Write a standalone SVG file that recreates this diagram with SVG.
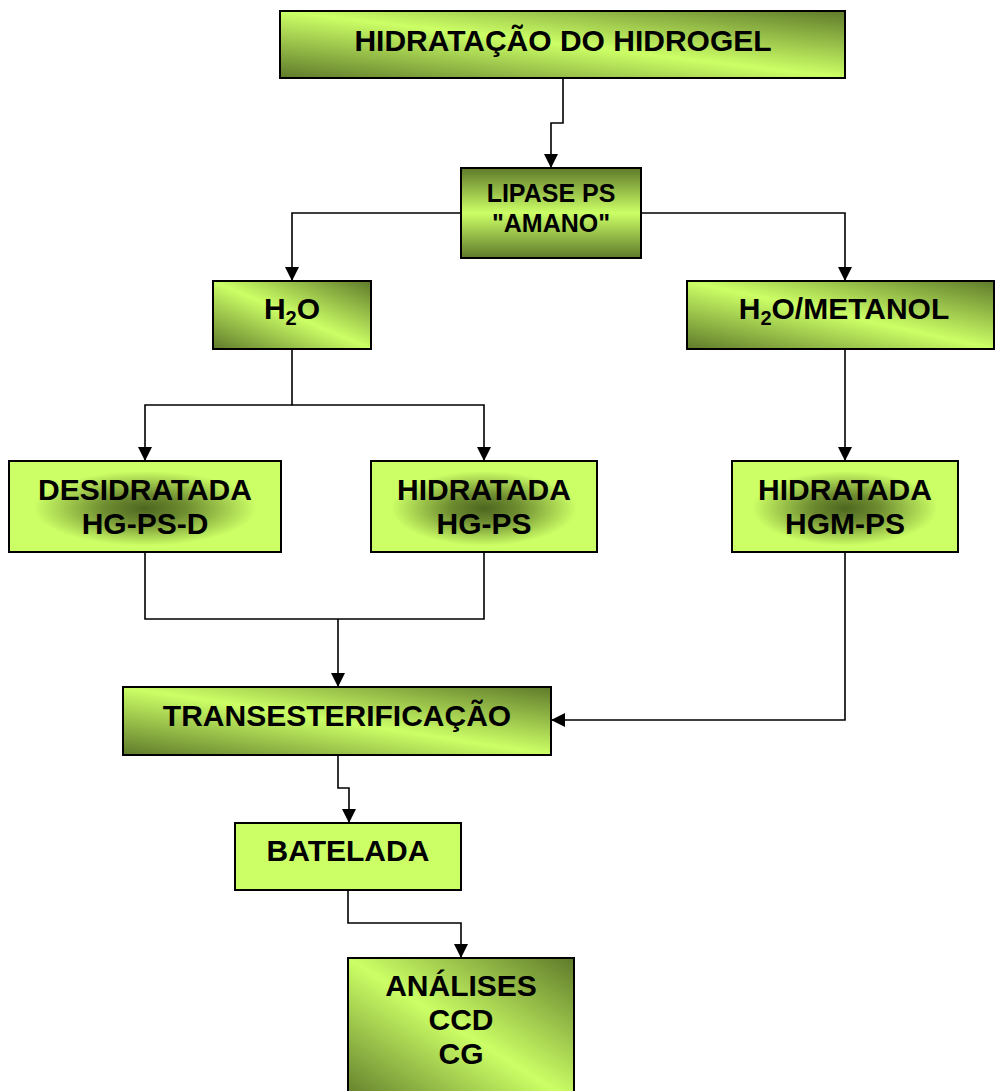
<svg xmlns="http://www.w3.org/2000/svg" width="995" height="1091" viewBox="0 0 995 1091">
  <defs>
    <!-- light band along the TL-BR diagonal, darker toward TR and BL corners -->
    <linearGradient id="gDiag" x1="0" y1="1" x2="1" y2="0">
      <stop offset="0" stop-color="#5f7a2a"/>
      <stop offset="0.5" stop-color="#ccff66"/>
      <stop offset="1" stop-color="#5f7a2a"/>
    </linearGradient>
    <!-- dark top and bottom, light middle -->
    <linearGradient id="gVert" x1="0" y1="0" x2="0" y2="1">
      <stop offset="0" stop-color="#5f7a2a"/>
      <stop offset="0.5" stop-color="#ccff66"/>
      <stop offset="1" stop-color="#5f7a2a"/>
    </linearGradient>
    <!-- dark centre fading out to light edges -->
    <radialGradient id="gCenter" cx="0.5" cy="0.52" r="0.5">
      <stop offset="0" stop-color="#4d6620"/>
      <stop offset="0.3" stop-color="#6e8c30"/>
      <stop offset="0.82" stop-color="#ccff66"/>
      <stop offset="1" stop-color="#ccff66"/>
    </radialGradient>
    <marker id="arrow" viewBox="0 0 14 14" refX="14" refY="7" markerWidth="14" markerHeight="14" markerUnits="userSpaceOnUse" orient="auto">
      <path d="M0,0 L14,7 L0,14 Z" fill="#000"/>
    </marker>
    <style>
      .box { stroke: #000; stroke-width: 2; }
      .lbl { font-family: "Liberation Sans", Arial, sans-serif; font-weight: bold; font-size: 30px; fill: #000; text-anchor: middle; }
      .sm { font-size: 25px; }
      .sub { font-size: 20px; }
      .wire { fill: none; stroke: #000; stroke-width: 1.6; }
    </style>
  </defs>

  <rect width="995" height="1091" fill="#fff"/>

  <g id="connectors">
    <path class="wire" d="M563,78 V123 H551 V168" marker-end="url(#arrow)"/>
    <path class="wire" d="M461,213 H292 V281" marker-end="url(#arrow)"/>
    <path class="wire" d="M641,213 H845 V281" marker-end="url(#arrow)"/>
    <path class="wire" d="M292,349 V405 H145 V461" marker-end="url(#arrow)"/>
    <path class="wire" d="M292,405 H484 V461" marker-end="url(#arrow)"/>
    <path class="wire" d="M845,349 V461" marker-end="url(#arrow)"/>
    <path class="wire" d="M145,552 V619 H484 V552"/>
    <path class="wire" d="M338,619 V687" marker-end="url(#arrow)"/>
    <path class="wire" d="M845,552 V720 H551" marker-end="url(#arrow)"/>
    <path class="wire" d="M338,755 V788 H349 V823" marker-end="url(#arrow)"/>
    <path class="wire" d="M348,890 V923 H461 V958" marker-end="url(#arrow)"/>
  </g>

  <g id="hidratacao">
    <rect class="box" x="280" y="11" width="565" height="67" fill="url(#gDiag)"/>
    <text class="lbl" x="563" y="51">HIDRATAÇÃO DO HIDROGEL</text>
  </g>

  <g id="lipase">
    <rect class="box" x="461" y="168" width="180" height="90" fill="url(#gVert)"/>
    <text class="lbl sm" x="551" y="202">LIPASE PS</text>
    <text class="lbl sm" x="551" y="232">"AMANO"</text>
  </g>

  <g id="h2o">
    <rect class="box" x="213" y="281" width="158" height="68" fill="url(#gDiag)"/>
    <text class="lbl" x="292" y="319">H<tspan class="sub" dy="6">2</tspan><tspan dy="-6">O</tspan></text>
  </g>

  <g id="h2o-metanol">
    <rect class="box" x="687" y="281" width="307" height="68" fill="url(#gDiag)"/>
    <text class="lbl" x="844" y="319">H<tspan class="sub" dy="6">2</tspan><tspan dy="-6">O/METANOL</tspan></text>
  </g>

  <g id="desidratada">
    <rect class="box" x="9" y="461" width="272" height="91" fill="url(#gCenter)"/>
    <text class="lbl" x="145" y="500">DESIDRATADA</text>
    <text class="lbl" x="145" y="534">HG-PS-D</text>
  </g>

  <g id="hidratada-hgps">
    <rect class="box" x="371" y="461" width="226" height="91" fill="url(#gCenter)"/>
    <text class="lbl" x="484" y="500">HIDRATADA</text>
    <text class="lbl" x="484" y="534">HG-PS</text>
  </g>

  <g id="hidratada-hgmps">
    <rect class="box" x="732" y="461" width="226" height="91" fill="url(#gCenter)"/>
    <text class="lbl" x="845" y="500">HIDRATADA</text>
    <text class="lbl" x="845" y="534">HGM-PS</text>
  </g>

  <g id="transesterificacao">
    <rect class="box" x="123" y="687" width="428" height="68" fill="url(#gDiag)"/>
    <text class="lbl" x="337" y="726">TRANSESTERIFICAÇÃO</text>
  </g>

  <g id="batelada">
    <rect class="box" x="235" y="823" width="226" height="67" fill="#ccff66"/>
    <text class="lbl" x="348" y="861">BATELADA</text>
  </g>

  <g id="analises">
    <rect class="box" x="348" y="958" width="226" height="145" fill="url(#gDiag)"/>
    <text class="lbl" x="461" y="996">ANÁLISES</text>
    <text class="lbl" x="461" y="1030">CCD</text>
    <text class="lbl" x="461" y="1064">CG</text>
  </g>
</svg>
